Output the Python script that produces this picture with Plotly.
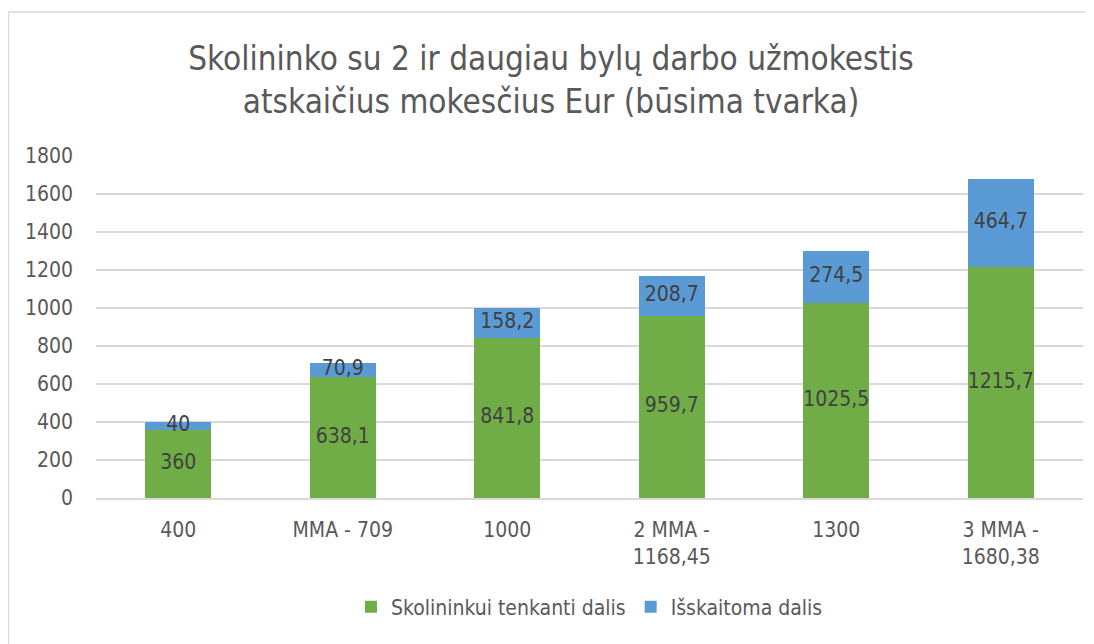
import plotly.graph_objects as go

categories = ["400", "MMA - 709", "1000", "2 MMA -<br>1168,45", "1300", "3 MMA -<br>1680,38"]
skolininkui = [360, 638.1, 841.8, 959.7, 1025.5, 1215.7]
isskaitoma = [40, 70.9, 158.2, 208.7, 274.5, 464.7]
series_names = ["Skolininkui tenkanti dalis", "Išskaitoma dalis"]
y_ticks = [0, 200, 400, 600, 800, 1000, 1200, 1400, 1600, 1800]

FONT = "DejaVu Sans Condensed"
GREEN = "#70AD47"
BLUE = "#5B9BD5"

def fmt(v):
    s = ("%.1f" % v).rstrip("0").rstrip(".")
    return s.replace(".", ",")

fig = go.Figure()
fig.add_trace(go.Bar(x=categories, y=skolininkui, name=series_names[0], marker_color=GREEN,
                     marker_line_width=0))
fig.add_trace(go.Bar(x=categories, y=isskaitoma, name=series_names[1], marker_color=BLUE,
                     marker_line_width=0))

mid1 = [v / 2 for v in skolininkui]
mid2 = [a + b / 2 for a, b in zip(skolininkui, isskaitoma)]
fig.add_trace(go.Scatter(x=categories, y=mid1, mode="text", text=[fmt(v) for v in skolininkui],
                         textfont=dict(family=FONT, size=21, color="#404040"),
                         showlegend=False, hoverinfo="skip"))
fig.add_trace(go.Scatter(x=categories, y=mid2, mode="text", text=[fmt(v) for v in isskaitoma],
                         textfont=dict(family=FONT, size=21, color="#404040"),
                         showlegend=False, hoverinfo="skip"))

fig.update_layout(
    width=1086, height=636,
    barmode="stack", bargap=0.6,
    paper_bgcolor="white", plot_bgcolor="white",
    margin=dict(l=88, r=11, t=148, b=146),
    font=dict(family=FONT, color="#595959", size=21),
    title=dict(text="Skolininko su 2 ir daugiau bylų darbo užmokestis<br>atskaičius mokesčius Eur (būsima tvarka)",
               x=0.5, xanchor="center", y=0.9025, yanchor="top",
               font=dict(family=FONT, size=33, color="#595959")),
    xaxis=dict(showgrid=False, showline=True, linecolor="#D9D9D9", linewidth=1.5,
               tickfont=dict(size=21, color="#595959"), ticks="", ticklabelstandoff=12),
    yaxis=dict(range=[0, 1800], tickvals=y_ticks, showgrid=True, gridcolor="#D9D9D9", gridwidth=1.5,
               zeroline=False, showline=False, tickfont=dict(size=21, color="#595959"),
               ticklabelstandoff=22),
    legend=dict(orientation="h", x=0.5, xanchor="center", y=-0.319, yanchor="middle",
                font=dict(size=21, color="#595959"), traceorder="normal"),
    shapes=[dict(type="rect", xref="paper", yref="paper", x0=-0.0887, y0=-0.6, x1=1.3, y1=1.421,
                 line=dict(color="#D9D9D9", width=1.5), fillcolor="rgba(0,0,0,0)", layer="below")],
)

fig.write_html("out.html")
